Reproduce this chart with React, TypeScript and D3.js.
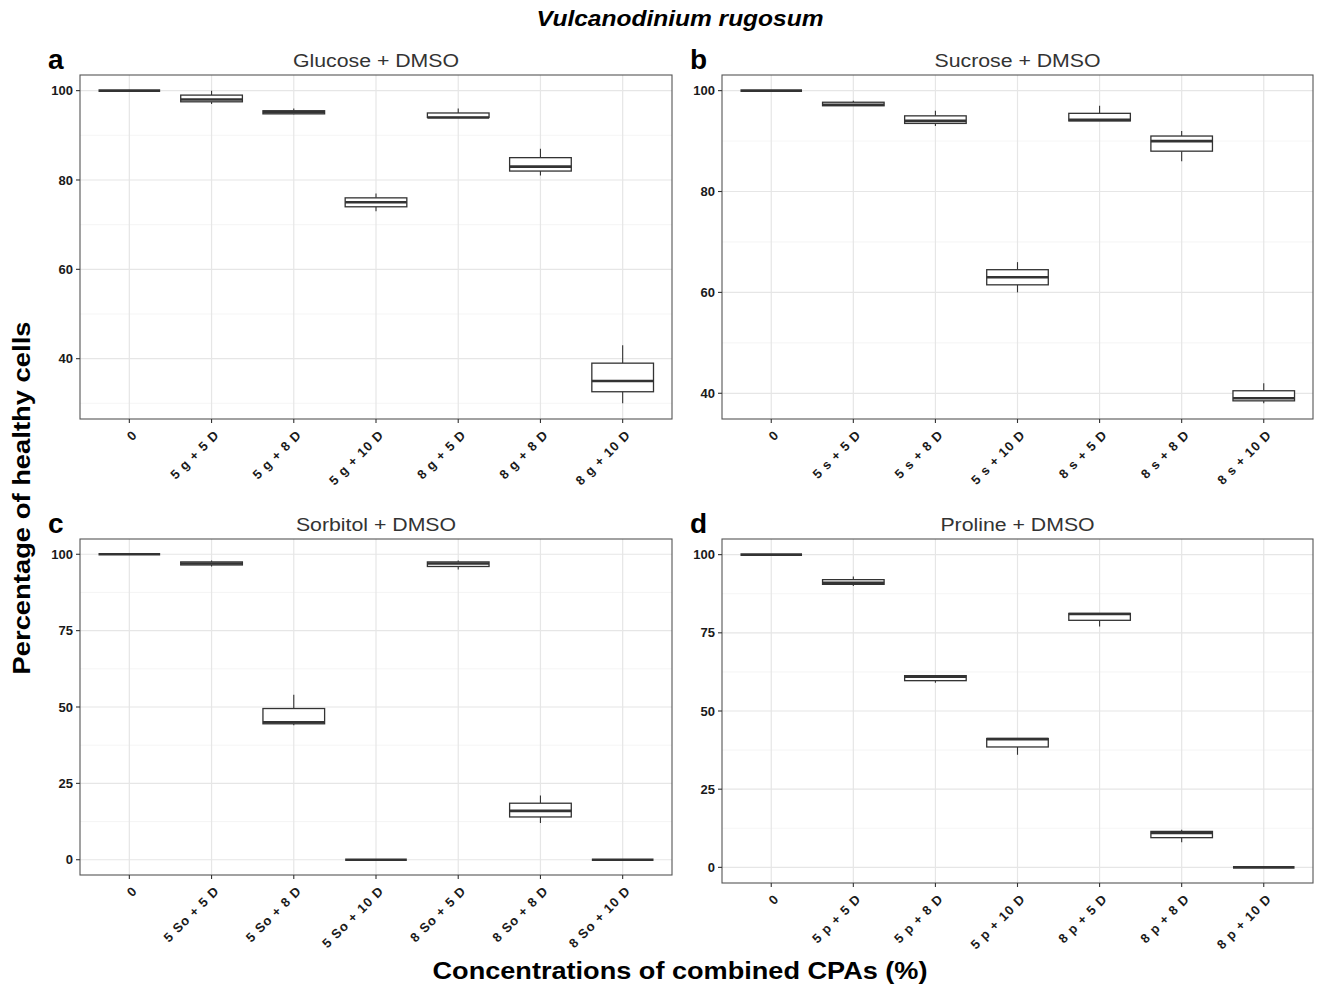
import React from 'react';
import * as d3 from 'd3';

// ---------- data ----------
const glucoseCats = ['0', '5 g + 5 D', '5 g + 8 D', '5 g + 10 D', '8 g + 5 D', '8 g + 8 D', '8 g + 10 D'];
const glucoseMin = [100, 97, 94.7, 73, 94, 81, 30];
const glucoseQ1 = [100, 97.5, 94.8, 74, 94, 82, 32.6];
const glucoseMed = [100, 98, 95.2, 75, 94, 83, 35];
const glucoseQ3 = [100, 99, 95.5, 76, 95, 85, 39];
const glucoseMax = [100, 100, 96, 77, 96, 87, 43];

const sucroseCats = ['0', '5 s + 5 D', '5 s + 8 D', '5 s + 10 D', '8 s + 5 D', '8 s + 8 D', '8 s + 10 D'];
const sucroseMin = [100, 97, 93, 60, 94, 86, 38];
const sucroseQ1 = [100, 97, 93.5, 61.5, 94, 88, 38.5];
const sucroseMed = [100, 97.2, 94, 63, 94.2, 90, 39];
const sucroseQ3 = [100, 97.7, 95, 64.5, 95.5, 91, 40.5];
const sucroseMax = [100, 98, 96, 66, 97, 92, 42];

const sorbitolCats = ['0', '5 So + 5 D', '5 So + 8 D', '5 So + 10 D', '8 So + 5 D', '8 So + 8 D', '8 So + 10 D'];
const sorbitolMin = [100, 96, 44, 0, 95, 12, 0];
const sorbitolQ1 = [100, 96.5, 44.5, 0, 96, 14, 0];
const sorbitolMed = [100, 97, 45, 0, 97, 16, 0];
const sorbitolQ3 = [100, 97.5, 49.5, 0, 97.5, 18.5, 0];
const sorbitolMax = [100, 98, 54, 0, 98, 21, 0];

const prolineCats = ['0', '5 p + 5 D', '5 p + 8 D', '5 p + 10 D', '8 p + 5 D', '8 p + 8 D', '8 p + 10 D'];
const prolineMin = [100, 90, 59, 36, 77, 8, 0];
const prolineQ1 = [100, 90.5, 59.7, 38.5, 79, 9.5, 0];
const prolineMed = [100, 91, 61, 41, 81, 11, 0];
const prolineQ3 = [100, 92, 61.3, 41.2, 81.2, 11.5, 0];
const prolineMax = [100, 93, 61.3, 41.2, 81.2, 12, 0];

const ticksAB = [40, 60, 80, 100];
const ticksCD = [0, 25, 50, 75, 100];

const mainTitle = 'Vulcanodinium rugosum';
const yTitle = 'Percentage of healthy cells';
const xTitle = 'Concentrations of combined CPAs (%)';

// ---------- layout ----------
const W = 1317;
const H = 992;
const FONT = '"Liberation Sans", Arial, Helvetica, sans-serif';

type PanelDef = {
  letter: string;
  title: string;
  cats: string[];
  mins: number[];
  q1s: number[];
  meds: number[];
  q3s: number[];
  maxs: number[];
  ticks: number[];
  l: number;
  r: number;
  t: number;
  b: number;
};

const panels: PanelDef[] = [
  { letter: 'a', title: 'Glucose + DMSO', cats: glucoseCats, mins: glucoseMin, q1s: glucoseQ1, meds: glucoseMed, q3s: glucoseQ3, maxs: glucoseMax, ticks: ticksAB, l: 80, r: 672, t: 75, b: 419 },
  { letter: 'b', title: 'Sucrose + DMSO', cats: sucroseCats, mins: sucroseMin, q1s: sucroseQ1, meds: sucroseMed, q3s: sucroseQ3, maxs: sucroseMax, ticks: ticksAB, l: 722, r: 1313, t: 75, b: 419 },
  { letter: 'c', title: 'Sorbitol + DMSO', cats: sorbitolCats, mins: sorbitolMin, q1s: sorbitolQ1, meds: sorbitolMed, q3s: sorbitolQ3, maxs: sorbitolMax, ticks: ticksCD, l: 80, r: 672, t: 539, b: 875 },
  { letter: 'd', title: 'Proline + DMSO', cats: prolineCats, mins: prolineMin, q1s: prolineQ1, meds: prolineMed, q3s: prolineQ3, maxs: prolineMax, ticks: ticksCD, l: 722, r: 1313, t: 539, b: 883 },
];

function Panel({ p }: { p: PanelDef }) {
  const lo = d3.min(p.mins) as number;
  const hi = d3.max(p.maxs) as number;
  const pad = (hi - lo) * 0.05;
  const y = d3.scaleLinear().domain([lo - pad, hi + pad]).range([p.b, p.t]);
  const x = d3.scalePoint<string>().domain(p.cats).range([p.l, p.r]).padding(0.6);
  const step = x.step();
  const bw = step * 0.75;
  const [d0, d1] = y.domain();
  const tstep = p.ticks[1] - p.ticks[0];
  const minor: number[] = [];
  const cand = [p.ticks[0] - tstep / 2, ...p.ticks.map((t) => t + tstep / 2)];
  cand.forEach((v) => {
    if (v > d0 && v < d1) minor.push(v);
  });

  return (
    <g>
      <rect x={p.l} y={p.t} width={p.r - p.l} height={p.b - p.t} fill="#ffffff" />
      {minor.map((v) => (
        <line key={'mn' + v} x1={p.l} x2={p.r} y1={y(v)} y2={y(v)} stroke="#f0f0f0" strokeWidth={0.7} />
      ))}
      {p.ticks.map((v) => (
        <line key={'mj' + v} x1={p.l} x2={p.r} y1={y(v)} y2={y(v)} stroke="#e6e6e6" strokeWidth={1.2} />
      ))}
      {p.cats.map((c) => (
        <line key={'vx' + c} x1={x(c)} x2={x(c)} y1={p.t} y2={p.b} stroke="#e6e6e6" strokeWidth={1.2} />
      ))}
      {p.cats.map((c, i) => {
        const cx = x(c) as number;
        return (
          <g key={'bx' + c}>
            <line x1={cx} x2={cx} y1={y(p.q3s[i])} y2={y(p.maxs[i])} stroke="#333" strokeWidth={1.1} />
            <line x1={cx} x2={cx} y1={y(p.q1s[i])} y2={y(p.mins[i])} stroke="#333" strokeWidth={1.1} />
            <rect
              x={cx - bw / 2}
              y={y(p.q3s[i])}
              width={bw}
              height={y(p.q1s[i]) - y(p.q3s[i])}
              fill="#ffffff"
              stroke="#333"
              strokeWidth={1.3}
            />
            <line x1={cx - bw / 2} x2={cx + bw / 2} y1={y(p.meds[i])} y2={y(p.meds[i])} stroke="#333" strokeWidth={2.6} />
          </g>
        );
      })}
      <rect x={p.l} y={p.t} width={p.r - p.l} height={p.b - p.t} fill="none" stroke="#555" strokeWidth={1.1} />
      {p.ticks.map((v) => (
        <g key={'yt' + v}>
          <line x1={p.l - 4} x2={p.l} y1={y(v)} y2={y(v)} stroke="#333" strokeWidth={1.1} />
          <text x={p.l - 7} y={y(v)} dy="0.36em" textAnchor="end" fontFamily={FONT} fontWeight="bold" fontSize={13} fill="#1a1a1a">
            {v}
          </text>
        </g>
      ))}
      {p.cats.map((c) => {
        const cx = x(c) as number;
        return (
          <g key={'xt' + c}>
            <line x1={cx} x2={cx} y1={p.b} y2={p.b + 4} stroke="#333" strokeWidth={1.1} />
            <text
              transform={`translate(${cx + 2},${p.b + 10}) rotate(-45)`}
              dy="0.72em"
              textAnchor="end"
              fontFamily={FONT}
              fontWeight="bold"
              fontSize={13}
              letterSpacing={1}
              fill="#1a1a1a"
            >
              {c}
            </text>
          </g>
        );
      })}
      <text
        transform={`translate(${(p.l + p.r) / 2},${p.t - 8}) scale(1.12,1)`}
        textAnchor="middle"
        fontFamily={FONT}
        fontSize={19}
        fill="#333"
      >
        {p.title}
      </text>
      <text x={p.l - 32} y={p.t - 6} fontFamily={FONT} fontWeight="bold" fontSize={28} fill="#000">
        {p.letter}
      </text>
    </g>
  );
}

export default function App() {
  return (
    <svg width={W} height={H} style={{ position: 'absolute', left: 0, top: 0, background: '#fff' }}>
      <rect x={0} y={0} width={W} height={H} fill="#fff" />
      {panels.map((p) => (
        <Panel key={p.letter} p={p} />
      ))}
      <text
        x={680}
        y={26}
        textAnchor="middle"
        fontFamily={FONT}
        fontWeight="bold"
        fontStyle="italic"
        fontSize={22}
        textLength={287}
        lengthAdjust="spacingAndGlyphs"
        fill="#000"
      >
        {mainTitle}
      </text>
      <text
        transform="translate(30,498) rotate(-90)"
        textAnchor="middle"
        fontFamily={FONT}
        fontWeight="bold"
        fontSize={23}
        textLength={353}
        lengthAdjust="spacingAndGlyphs"
        fill="#000"
      >
        {yTitle}
      </text>
      <text
        x={680}
        y={979}
        textAnchor="middle"
        fontFamily={FONT}
        fontWeight="bold"
        fontSize={23}
        textLength={495}
        lengthAdjust="spacingAndGlyphs"
        fill="#000"
      >
        {xTitle}
      </text>
    </svg>
  );
}
